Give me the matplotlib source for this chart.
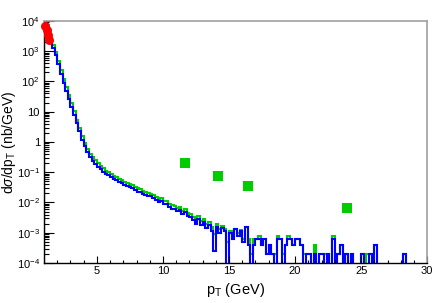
import numpy as np
import matplotlib
matplotlib.use("Agg")
import matplotlib.pyplot as plt
from matplotlib.ticker import FixedLocator, LogLocator, FuncFormatter, NullFormatter


plt.rcParams["font.family"] = ["Liberation Sans", "DejaVu Sans"]
plt.rcParams["mathtext.fontset"] = "custom"
plt.rcParams["mathtext.rm"] = "Liberation Sans"
plt.rcParams["mathtext.it"] = "Liberation Sans:italic"


# -----------------------------
# Data
# -----------------------------

pt_min = 1.0
pt_max = 30.0
n_bins = 145

# blue histogram, nb/GeV per 0.2 GeV bin
blue_values = [
    5250, 3160, 2000, 1260, 724, 363, 182, 91, 50, 27,
    14.5, 7.9, 4.2, 2.3, 1.2, 0.72, 0.46, 0.32, 0.24, 0.19,
    0.15, 0.126, 0.105, 0.089, 0.078, 0.069, 0.060, 0.055, 0.048, 0.043,
    0.039, 0.035, 0.032, 0.030, 0.026, 0.023, 0.022, 0.019, 0.018, 0.016,
    0.016, 0.014, 0.012, 0.010, 0.011, 0.0087, 0.0091, 0.0069, 0.0063, 0.0060,
    0.0052, 0.0055, 0.0042, 0.0047, 0.0035, 0.0032, 0.0026, 0.0020, 0.0028, 0.0018,
    0.0022, 0.0014, 0.0018, 0.0011, 0.00025, 0.0016, 0.0010, 0.0014, 0.0011, 0,
    1.0e-3, 6e-4, 1.3e-3, 8e-4, 1.1e-3, 5e-4, 1.6e-3, 4e-4, 0, 4e-4,
    6e-4, 6e-4, 4e-4, 6e-4, 2e-4, 4e-4, 2e-4, 0, 6e-4, 6e-4,
    0, 4e-4, 6e-4, 6e-4, 4e-4, 6e-4, 6e-4, 4e-4, 0, 2e-4,
    2e-4, 0, 2e-4, 0, 2e-4, 2e-4, 0, 2e-4, 0, 6e-4,
    0, 2e-4, 4e-4, 0, 2e-4, 0, 2e-4, 0, 0, 0,
    2e-4, 0, 0, 2e-4, 0, 4e-4, 0, 0, 0, 0,
    0, 0, 0, 0, 0, 0, 2e-4, 0, 0, 0,
    0, 0, 0, 0, 0,
]

# green histogram
green_values = [
    7900, 4300, 2700, 1650, 950, 480, 240, 120, 66, 35,
    19, 10.4, 5.5, 3.0, 1.6, 0.95, 0.60, 0.41, 0.31, 0.245,
    0.195, 0.16, 0.135, 0.113, 0.099, 0.087, 0.076, 0.069, 0.061, 0.054,
    0.049, 0.044, 0.040, 0.037, 0.033, 0.029, 0.028, 0.024, 0.023, 0.021,
    0.019, 0.018, 0.015, 0.013, 0.014, 0.011, 0.0115, 0.0088, 0.0080, 0.0077,
    0.0066, 0.0071, 0.0054, 0.0060, 0.0046, 0.0041, 0.0034, 0.0027, 0.0036, 0.0024,
    0.0029, 0.0019, 0.0023, 0.0015, 0.0009, 0.0020, 0.0013, 0.0017, 0.0013, 0.0005,
    1.1e-3, 8e-4, 1.3e-3, 1.0e-3, 1.2e-3, 6e-4, 1.6e-3, 6e-4, 2e-4, 6e-4,
    6e-4, 8e-4, 4e-4, 6e-4, 2e-4, 4e-4, 2e-4, 2e-4, 8e-4, 6e-4,
    2e-4, 4e-4, 8e-4, 6e-4, 4e-4, 6e-4, 6e-4, 4e-4, 2e-4, 2e-4,
    2e-4, 0, 4e-4, 0, 2e-4, 2e-4, 2e-4, 2e-4, 0, 8e-4,
    0, 2e-4, 4e-4, 0, 2e-4, 0, 2e-4, 0, 0, 0,
    2e-4, 0, 2e-4, 2e-4, 0, 4e-4, 0, 0, 0, 0,
    0, 0, 0, 0, 0, 0, 2e-4, 0, 0, 0,
    0, 0, 0, 0, 0,
]

# red points at low pT
red_pt = [1.1, 1.2, 1.3, 1.4]
red_xsec = [6700, 5000, 3500, 2300]

# green squares
square_pt = [11.7, 14.2, 16.45, 23.9]
square_xsec = [0.2, 0.077, 0.036, 0.0068]

y_tick_values = [1e-4, 1e-3, 1e-2, 1e-1, 1, 10, 1e2, 1e3, 1e4]
x_tick_values = [5, 10, 15, 20, 25, 30]


# -----------------------------
# Figure
# -----------------------------

fig = plt.figure(figsize=(4.45, 3.03), dpi=100)
ax = fig.add_axes([0.099, 0.132, 0.861, 0.799])

edges = np.linspace(pt_min, pt_max, n_bins + 1)

# empty bins drop below the frame, like ROOT does
green_draw = np.maximum(np.array(green_values, dtype=float), 1e-6)
blue_draw = np.maximum(np.array(blue_values, dtype=float), 1e-6)

ax.stairs(green_draw, edges, color="#00cc00", linewidth=1.5)
ax.stairs(blue_draw, edges, color="#0000ff", linewidth=1.5)

ax.plot(
    square_pt, square_xsec,
    linestyle="none", marker="s", markersize=7.5,
    color="#00cc00", markeredgewidth=0
)

ax.plot(
    red_pt, red_xsec,
    linestyle="none", marker="o", markersize=6.5,
    color="#ff0000", markeredgewidth=0, clip_on=False, zorder=5
)


# -----------------------------
# Axes
# -----------------------------

ax.set_yscale("log")
ax.set_xlim(pt_min, pt_max)
ax.set_ylim(1e-4, 1e4)


def y_label(v, pos):
    e = int(round(np.log10(v)))
    if e == 0:
        return "1"
    if e == 1:
        return "10"
    return r"$10^{%d}$" % e


ax.yaxis.set_major_locator(FixedLocator(y_tick_values))
ax.yaxis.set_major_formatter(FuncFormatter(y_label))
ax.yaxis.set_minor_locator(LogLocator(base=10, subs=np.arange(2, 10)))
ax.yaxis.set_minor_formatter(NullFormatter())

ax.xaxis.set_major_locator(FixedLocator(x_tick_values))
ax.xaxis.set_minor_locator(FixedLocator(np.arange(2, 30)))

ax.tick_params(axis="both", which="both", direction="in", labelsize=8, colors="black")
ax.tick_params(axis="x", which="major", length=5, width=0.8, pad=2)
ax.tick_params(axis="x", which="minor", length=2.5, width=0.8)
ax.tick_params(axis="y", which="major", length=7, width=0.8, pad=3)
ax.tick_params(axis="y", which="minor", length=3.5, width=0.8)
ax.tick_params(top=False, right=False)

for side in ["top", "right"]:
    ax.spines[side].set_color("#a0a0a0")
    ax.spines[side].set_linewidth(1.2)
for side in ["left", "bottom"]:
    ax.spines[side].set_color("black")
    ax.spines[side].set_linewidth(1.0)

ax.set_xlabel(r"p$_{\mathrm{T}}$ (GeV)", fontsize=10.5, labelpad=4)
ax.set_ylabel(r"d$\sigma$/dp$_{\mathrm{T}}$ (nb/GeV)", fontsize=10)
ax.yaxis.set_label_coords(-0.068, 0.5)


plt.savefig("out.png", dpi=100)
plt.close()

print("saved out.png")
